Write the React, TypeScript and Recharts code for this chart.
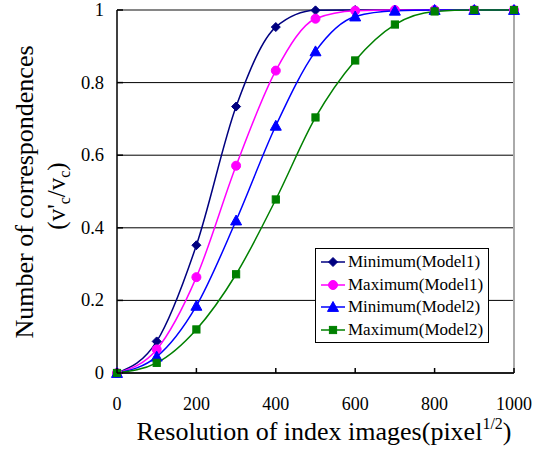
import React from 'react';
import { LineChart, Line, XAxis, YAxis, CartesianGrid, ReferenceLine } from 'recharts';

const resolutions = [0, 100, 200, 300, 400, 500, 600, 700, 800, 900, 1000];
const minModel1 = [0, 0.087, 0.352, 0.734, 0.953, 0.999, 1, 1, 1, 1, 1];
const maxModel1 = [0, 0.065, 0.264, 0.571, 0.833, 0.976, 0.998, 1, 1, 1, 1];
const minModel2 = [0, 0.045, 0.185, 0.42, 0.681, 0.886, 0.982, 0.998, 1, 1, 1];
const maxModel2 = [0, 0.028, 0.12, 0.272, 0.478, 0.704, 0.861, 0.96, 0.996, 1, 1];

const xTicks = [0, 200, 400, 600, 800, 1000];
const yTicks = [0, 0.2, 0.4, 0.6, 0.8, 1];

const seriesNames = ['Minimum(Model1)', 'Maximum(Model1)', 'Minimum(Model2)', 'Maximum(Model2)'];
const seriesColors = ['#000080', '#FF00FF', '#0000FF', '#008000'];
const seriesShapes = ['diamond', 'circle', 'triangle', 'square'];

const data = resolutions.map((r, i) => ({
  r,
  s0: minModel1[i],
  s1: maxModel1[i],
  s2: minModel2[i],
  s3: maxModel2[i],
}));

const FONT = '"Liberation Serif", "Times New Roman", "DejaVu Serif", serif';
const PLOT_LEFT = 117;
const PLOT_TOP = 10;
const PLOT_BOTTOM = 373;
const PLOT_RIGHT = 514;

function Marker({ shape, color, cx, cy }: { shape: string; color: string; cx: number; cy: number }) {
  if (cx == null || cy == null) return null;
  if (shape === 'diamond') {
    const s = 4.5;
    return <path d={`M${cx},${cy - s}L${cx + s},${cy}L${cx},${cy + s}L${cx - s},${cy}Z`} fill={color} stroke={color} />;
  }
  if (shape === 'circle') {
    return <circle cx={cx} cy={cy} r={4.5} fill={color} stroke={color} />;
  }
  if (shape === 'triangle') {
    const s = 5.5;
    return <path d={`M${cx},${cy - s}L${cx + s},${cy + s * 0.8}L${cx - s},${cy + s * 0.8}Z`} fill={color} stroke={color} />;
  }
  const s = 3.6;
  return <rect x={cx - s} y={cy - s} width={2 * s} height={2 * s} fill={color} stroke={color} />;
}

const textStyle = { fontFamily: FONT, fill: '#000' } as React.CSSProperties;

const XTick = (props: any) => {
  const { x, payload } = props;
  return (
    <g>
      <line x1={x} x2={x} y1={PLOT_BOTTOM} y2={PLOT_BOTTOM - 5} stroke="#000" strokeWidth={1.5} />
      <text x={x} y={PLOT_BOTTOM + 37} textAnchor="middle" style={{ ...textStyle, fontSize: 18 }}>
        {payload.value}
      </text>
    </g>
  );
};

const YTick = (props: any) => {
  const { y, payload } = props;
  return (
    <g>
      <line x1={PLOT_LEFT} x2={PLOT_LEFT + 6} y1={y} y2={y} stroke="#000" strokeWidth={1.5} />
      <text x={104} y={y + 6} textAnchor="end" style={{ ...textStyle, fontSize: 18.5 }}>
        {payload.value}
      </text>
    </g>
  );
};

const XLabel = () => (
  <text x={324} y={440} textAnchor="middle" style={{ ...textStyle, fontSize: 26 }}>
    Resolution of index images(pixel
    <tspan style={{ fontSize: 16 }} dy={-11}>1/2</tspan>
    <tspan dy={11}>)</tspan>
  </text>
);

const YLabel = () => (
  <g>
    <text transform="translate(33,192) rotate(-90)" textAnchor="middle" style={{ ...textStyle, fontSize: 26 }}>
      Number of correspondences
    </text>
    <text transform="translate(65,196) rotate(-90)" textAnchor="middle" style={{ ...textStyle, fontSize: 25 }}>
      (v'<tspan style={{ fontSize: 16 }} dy={5}>c</tspan>
      <tspan dy={-5}>/v</tspan>
      <tspan style={{ fontSize: 16 }} dy={5}>c</tspan>
      <tspan dy={-5}>)</tspan>
    </text>
  </g>
);

const LegendBox = () => (
  <div
    style={{
      position: 'absolute',
      left: 315,
      top: 248,
      width: 174,
      height: 95,
      border: '1px solid #000',
      background: '#fff',
      padding: '2px 4px',
      fontFamily: FONT,
      fontSize: 17,
      color: '#000',
      boxSizing: 'border-box',
    }}
  >
    {seriesNames.map((name, i) => (
      <div key={name} style={{ display: 'flex', alignItems: 'center', height: 22.5 }}>
        <svg width={26} height={14} style={{ marginRight: 2, flex: 'none' }}>
          <line x1={1} x2={25} y1={7} y2={7} stroke={seriesColors[i]} strokeWidth={1.5} />
          <Marker shape={seriesShapes[i]} color={seriesColors[i]} cx={13} cy={7} />
        </svg>
        <span style={{ whiteSpace: 'nowrap' }}>{name}</span>
      </div>
    ))}
  </div>
);

export default function App() {
  return (
    <div style={{ position: 'absolute', left: 0, top: 0, width: 543, height: 451, background: '#fff', fontFamily: FONT }}>
      <LineChart
        width={543}
        height={451}
        data={data}
        margin={{ top: PLOT_TOP, right: 543 - PLOT_RIGHT, bottom: 0, left: 0 }}
      >
        <CartesianGrid horizontal vertical={false} stroke="#000" strokeWidth={1} />
        <ReferenceLine y={1} stroke="#888" strokeWidth={1.5} />
        <ReferenceLine x={1000} stroke="#aaa" strokeWidth={2} />
        <XAxis
          dataKey="r"
          type="number"
          domain={[0, 1000]}
          ticks={xTicks}
          tick={<XTick />}
          tickLine={false}
          axisLine={{ stroke: '#000', strokeWidth: 1.5 }}
          height={451 - PLOT_BOTTOM}
          label={<XLabel />}
        />
        <YAxis
          type="number"
          domain={[0, 1]}
          ticks={yTicks}
          tick={<YTick />}
          tickLine={false}
          axisLine={{ stroke: '#000', strokeWidth: 1.5 }}
          width={PLOT_LEFT}
          label={<YLabel />}
        />
        {seriesNames.map((name, i) => (
          <Line
            key={name}
            dataKey={`s${i}`}
            name={name}
            type="monotone"
            stroke={seriesColors[i]}
            strokeWidth={1.5}
            isAnimationActive={false}
            dot={(p: any) => <Marker key={`d${i}-${p.index}`} shape={seriesShapes[i]} color={seriesColors[i]} cx={p.cx} cy={p.cy} />}
            activeDot={false}
          />
        ))}
      </LineChart>
      <LegendBox />
    </div>
  );
}
